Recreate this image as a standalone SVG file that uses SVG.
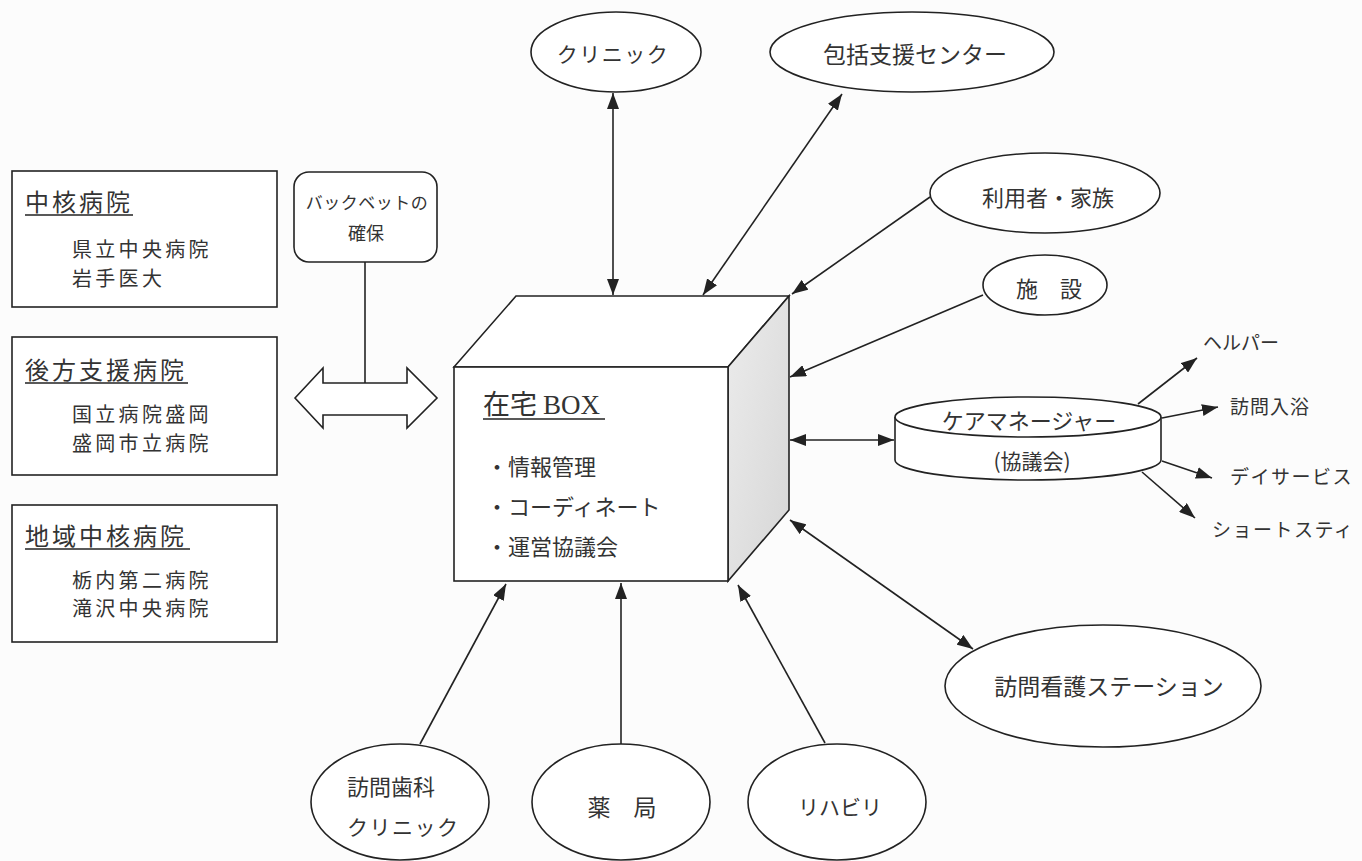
<svg xmlns="http://www.w3.org/2000/svg" width="1362" height="861" viewBox="0 0 1362 861">
<style>
.ln{stroke:#222;stroke-width:1.6;fill:none}
.shape{stroke:#222;stroke-width:1.6;fill:#fff}
.t{font-family:"Noto Sans CJK JP","Noto Sans",sans-serif;fill:#333}
.title{font-size:24px;letter-spacing:3px}
.item{font-size:20px;letter-spacing:3.3px}
.lbl{font-size:21px;text-anchor:middle}
.sm{font-size:19px}
</style>
<defs>
<marker id="ah" viewBox="0 0 16 12" refX="16" refY="6" markerWidth="16" markerHeight="12" markerUnits="userSpaceOnUse" orient="auto-start-reverse">
<path d="M0,0 L16,6 L0,12 z" fill="#222"/>
</marker>
<linearGradient id="side" x1="0" y1="0" x2="1" y2="1">
<stop offset="0" stop-color="#ececec"/>
<stop offset="1" stop-color="#d6d6d6"/>
</linearGradient>
</defs>
<rect width="1362" height="861" fill="#fcfcfc"/>

<g id="connectors">
<line class="ln" x1="613" y1="93" x2="613" y2="295" marker-start="url(#ah)" marker-end="url(#ah)"/>
<line class="ln" x1="842" y1="94" x2="703" y2="295" marker-start="url(#ah)" marker-end="url(#ah)"/>
<line class="ln" x1="930" y1="197" x2="792" y2="294" marker-end="url(#ah)"/>
<line class="ln" x1="983" y1="295" x2="790" y2="377" marker-end="url(#ah)"/>
<line class="ln" x1="790" y1="440" x2="894" y2="440" marker-start="url(#ah)" marker-end="url(#ah)"/>
<line class="ln" x1="790" y1="520" x2="973" y2="649" marker-start="url(#ah)" marker-end="url(#ah)"/>
<line class="ln" x1="420" y1="744" x2="506" y2="584" marker-end="url(#ah)"/>
<line class="ln" x1="621" y1="744" x2="621" y2="583" marker-end="url(#ah)"/>
<line class="ln" x1="825" y1="743" x2="738" y2="585" marker-end="url(#ah)"/>
<line class="ln" x1="1138" y1="404" x2="1197" y2="358" marker-end="url(#ah)"/>
<line class="ln" x1="1162" y1="418" x2="1218" y2="407" marker-end="url(#ah)"/>
<line class="ln" x1="1162" y1="461" x2="1212" y2="478" marker-end="url(#ah)"/>
<line class="ln" x1="1142" y1="472" x2="1195" y2="518" marker-end="url(#ah)"/>
<line class="ln" x1="365" y1="262" x2="365" y2="383"/>
</g>

<g id="hosp-core">
<rect class="shape" x="12" y="171" width="265" height="136"/>
<text class="t title" x="25" y="211">中核病院</text>
<line class="ln" x1="25" y1="215" x2="133" y2="215" stroke-width="1.2"/>
<text class="t item" x="72" y="257">県立中央病院</text>
<text class="t item" x="72" y="286">岩手医大</text>
</g>

<g id="hosp-backup">
<rect class="shape" x="12" y="337" width="265" height="138"/>
<text class="t title" x="25" y="379">後方支援病院</text>
<line class="ln" x1="25" y1="383" x2="188" y2="383" stroke-width="1.2"/>
<text class="t item" x="72" y="422">国立病院盛岡</text>
<text class="t item" x="72" y="451">盛岡市立病院</text>
</g>

<g id="hosp-regional">
<rect class="shape" x="12" y="505" width="265" height="137"/>
<text class="t title" x="25" y="545">地域中核病院</text>
<line class="ln" x1="25" y1="549" x2="190" y2="549" stroke-width="1.2"/>
<text class="t item" x="72" y="588">栃内第二病院</text>
<text class="t item" x="72" y="616">滝沢中央病院</text>
</g>

<g id="backbed">
<rect class="shape" x="294" y="172" width="143" height="90" rx="15"/>
<text class="t lbl" x="367" y="209" style="font-size:17px;letter-spacing:0.5px">バックベットの</text>
<text class="t lbl" x="366" y="240" style="font-size:18px">確保</text>
</g>

<g id="double-arrow">
<polygon class="shape" points="295,398 323,368 323,383 407,383 407,368 437,398 407,428 407,415 323,415 323,428"/>
</g>

<g id="zaitaku-box">
<polygon class="shape" points="454,367 516,296 789,296 728,367"/>
<polygon points="728,367 789,296 789,510 728,581" fill="url(#side)" stroke="#222" stroke-width="1.6"/>
<rect class="shape" x="454" y="367" width="274" height="214"/>
<text class="t" x="483" y="414" style="font-size:27px"><tspan>在宅</tspan><tspan font-family="'Liberation Serif',serif" dx="6">BOX</tspan></text>
<line class="ln" x1="483" y1="419" x2="605" y2="419" stroke-width="1.2"/>
<text class="t" x="486" y="475" style="font-size:22px">・情報管理</text>
<text class="t" x="486" y="515" style="font-size:22px">・コーディネート</text>
<text class="t" x="486" y="555" style="font-size:22px">・運営協議会</text>
</g>

<g id="clinic">
<ellipse class="shape" cx="616" cy="52" rx="85" ry="40"/>
<text class="t lbl" x="613" y="62" style="letter-spacing:1.5px">クリニック</text>
</g>

<g id="houkatsu">
<ellipse class="shape" cx="912" cy="52" rx="142" ry="40"/>
<text class="t lbl" x="915" y="63" style="font-size:23px">包括支援センター</text>
</g>

<g id="riyousha">
<ellipse class="shape" cx="1045" cy="193" rx="115" ry="40"/>
<text class="t lbl" x="1048" y="206" style="font-size:22px">利用者・家族</text>
</g>

<g id="shisetsu">
<ellipse class="shape" cx="1045" cy="285" rx="62" ry="30"/>
<text class="t lbl" x="1049" y="297" style="font-size:22px">施　設</text>
</g>

<g id="caremanager">
<path class="shape" d="M895,417 L895,460 A133,20 0 0 0 1161,460 L1161,417"/>
<ellipse class="shape" cx="1028" cy="417" rx="133" ry="20"/>
<text class="t lbl" x="1029" y="429" style="font-size:22px">ケアマネージャー</text>
<text class="t lbl" x="1032" y="469" style="font-size:21px">(協議会)</text>
</g>

<g id="services">
<text class="t sm" x="1203" y="350">ヘルパー</text>
<text class="t sm" x="1230" y="414" style="letter-spacing:1px">訪問入浴</text>
<text class="t sm" x="1230" y="484" style="letter-spacing:1.5px">デイサービス</text>
<text class="t sm" x="1212" y="537" style="letter-spacing:1.5px">ショートスティ</text>
</g>

<g id="houmon-kango">
<ellipse class="shape" cx="1103" cy="686" rx="158" ry="61"/>
<text class="t lbl" x="1109" y="695" style="font-size:23px">訪問看護ステーション</text>
</g>

<g id="shika">
<ellipse class="shape" cx="400" cy="802" rx="89" ry="58"/>
<text class="t" x="347" y="795" style="font-size:22px">訪問歯科</text>
<text class="t" x="347" y="835" style="font-size:21px;letter-spacing:1.5px">クリニック</text>
</g>

<g id="yakkyoku">
<ellipse class="shape" cx="621" cy="802" rx="89" ry="58"/>
<text class="t lbl" x="622" y="816" style="font-size:23px">薬　局</text>
</g>

<g id="rehab">
<ellipse class="shape" cx="837" cy="802" rx="89" ry="58"/>
<text class="t lbl" x="840" y="815" style="font-size:21px">リハビリ</text>
</g>
</svg>
